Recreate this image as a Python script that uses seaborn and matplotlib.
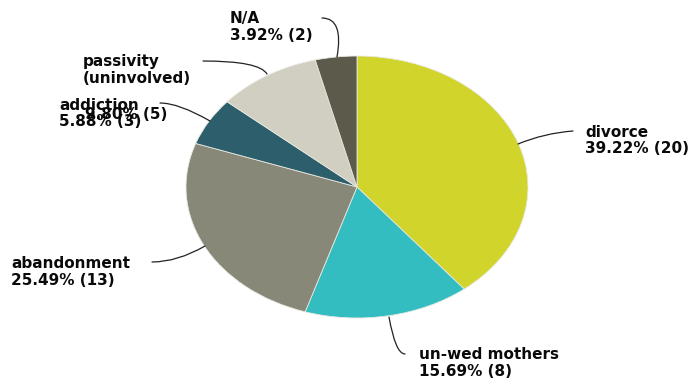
import matplotlib
matplotlib.use("Agg")
import matplotlib.pyplot as plt
import seaborn as sns

# Family structure counts
categories = ["divorce", "un-wed mothers", "abandonment", "addiction",
              "passivity\n(uninvolved)", "N/A"]
counts = [20, 8, 13, 3, 5, 2]
colors = ["#D0D42B", "#33BDC0", "#878878", "#2D5E6B", "#D1CFC1", "#5B5A4B"]

sns.set_theme(style="white")
plt.rcParams["font.family"] = ["DejaVu Sans"]

W, H = 692, 379
fig = plt.figure(figsize=(W / 100, H / 100), dpi=100)
fig.patch.set_facecolor("white")

# Elliptical pie: axes box spans the slice area, aspect left free
px_left, px_top, px_w, px_h = 186, 56, 342, 262
pie_ax = fig.add_axes([px_left / W, (H - px_top - px_h) / H, px_w / W, px_h / H])
wedges, _ = pie_ax.pie(counts, colors=colors, startangle=90, counterclock=False,
                       radius=1.0,
                       wedgeprops=dict(edgecolor="#E8E8E0", linewidth=0.6))
pie_ax.set_xlim(-1, 1)
pie_ax.set_ylim(-1, 1)
pie_ax.set_aspect("auto")
pie_ax.axis("off")

# Overlay in pixel units for labels and leader lines
ov = fig.add_axes([0, 0, 1, 1], facecolor="none")
ov.set_xlim(0, W)
ov.set_ylim(H, 0)
ov.axis("off")

total = sum(counts)
pct = [f"{100 * c / total:.2f}% ({c})" for c in counts]

# (x, baseline of first line, baseline of value line, value x)
label_pos = [
    (585, 137, 153, 585),
    (419, 359, 376, 419),
    (11, 268, 285, 11),
    (59, 110, 126, 59),
    (83, 66, 119, 85),
    (230, 23, 40, 230),
]
# leader line: start near label, end on slice edge, connection style
leaders = [
    ((573, 131), (518, 144), "arc3,rad=0.08"),
    ((405, 354), (389, 317), "angle3,angleA=0,angleB=100"),
    ((152, 262), (205, 246), "angle3,angleA=0,angleB=30"),
    ((160, 103), (210, 121), "angle3,angleA=0,angleB=-30"),
    ((203, 61), (267, 74), "angle3,angleA=0,angleB=-60"),
    ((322, 18), (337, 57), "angle3,angleA=0,angleB=80"),
]

txt_kw = dict(fontsize=11, fontweight="bold", color="#0A0A0A", va="baseline",
              ha="left")
for name, p, (x, y1, y2, xv), (start, end, style) in zip(categories, pct, label_pos, leaders):
    for i, ln in enumerate(name.split("\n")):
        ov.text(x, y1 + 17 * i, ln, **txt_kw)
    ov.text(xv, y2, p, **txt_kw)
    ov.annotate("", xy=end, xytext=start,
                arrowprops=dict(arrowstyle="-", color="#222222", lw=0.9,
                                connectionstyle=style, shrinkA=0, shrinkB=0))

fig.savefig("out.png", dpi=100)
